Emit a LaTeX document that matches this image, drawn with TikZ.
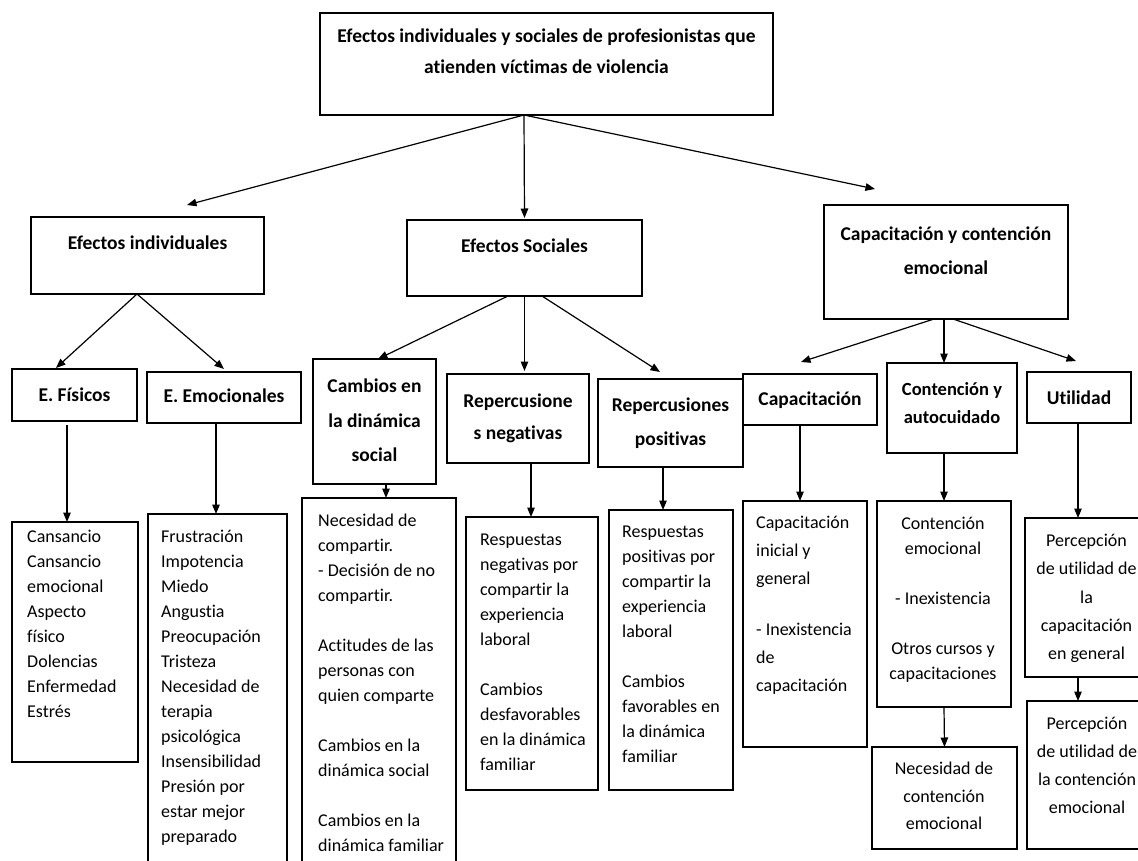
\documentclass[tikz,border=0pt]{standalone}
\usepackage{fontspec}
\setmainfont{Carlito}[Ligatures={NoCommon,NoContextual}]
\usepackage{tikz}
\usetikzlibrary{arrows.meta}

\begin{document}
\begin{tikzpicture}[x=1pt,y=-1pt,
	caja/.style={draw, line width=1.4pt, inner sep=0pt, outer sep=0pt},
	titulo/.style={font=\bfseries\fontsize{19.5}{31}\selectfont, align=center, inner sep=0pt},
	lista/.style={font=\fontsize{18}{25}\selectfont, align=left, inner sep=0pt, anchor=north west},
	centrada/.style={font=\fontsize{18}{25}\selectfont, align=center, inner sep=0pt, anchor=north},
	flecha/.style={-{Triangle[length=9.5pt,width=7.5pt]}, line width=1.2pt}]
			\useasboundingbox (0,0) rectangle (1138,861);
			
			% Nodes
			\node[caja, minimum width=453, minimum height=102] (top) at (546.5,64) {};
			\node[titulo] (top-t) at (546.5,51.5) {Efectos individuales y sociales de profesionistas que\\atienden víctimas de violencia};
			
			\node[caja, minimum width=233, minimum height=77] (ind) at (147.5,255.5) {};
			\node[titulo] (ind-t) at (147.5,243) {Efectos individuales};
			\node[caja, minimum width=235, minimum height=76] (soc) at (524.5,258) {};
			\node[titulo] (soc-t) at (524.5,246) {Efectos Sociales};
			\node[caja, minimum width=244, minimum height=114] (cap) at (946,262) {};
			\node[titulo, font=\bfseries\fontsize{19.5}{34}\selectfont] (cap-t) at (946,250.5) {Capacitación y contención\\emocional};
			
			\node[caja, minimum width=125, minimum height=52] (fis) at (74.5,395) {};
			\node[titulo] (fis-t) at (74.5,395) {E. Físicos};
			\node[caja, minimum width=154, minimum height=51] (emo) at (224,397.5) {};
			\node[titulo] (emo-t) at (224,396) {E. Emocionales};
			\node[caja, minimum width=123, minimum height=125] (cam) at (374.5,421.5) {};
			\node[titulo, font=\bfseries\fontsize{19.5}{34.5}\selectfont] (cam-t) at (374.5,420.5) {Cambios en\\la dinámica\\social};
			\node[caja, minimum width=142, minimum height=89] (neg) at (518,418.5) {};
			\node[titulo, font=\bfseries\fontsize{19.5}{32}\selectfont] (neg-t) at (518,418) {Repercusione\\s negativas};
			\node[caja, minimum width=145, minimum height=88] (pos) at (670.5,423) {};
			\node[titulo, font=\bfseries\fontsize{19.5}{34}\selectfont] (pos-t) at (670.5,423.5) {Repercusiones\\positivas};
			\node[caja, minimum width=134, minimum height=51] (capa) at (810,399.5) {};
			\node[titulo] (capa-t) at (810,400) {Capacitación};
			\node[caja, minimum width=130, minimum height=90] (cont) at (952,408) {};
			\node[titulo, font=\bfseries\fontsize{18.5}{28.5}\selectfont] (cont-t) at (952,403) {Contención y\\autocuidado};
			\node[caja, minimum width=104, minimum height=51] (util) at (1079,397.5) {};
			\node[titulo] (util-t) at (1079,398) {Utilidad};
			
			% Lists
			\node[caja, minimum width=126, minimum height=240] (fisl) at (75,642) {};
			\node[lista] (fisl-t) at (27,530) {Cansancio\\Cansancio\\emocional\\Aspecto\\físico\\Dolencias\\Enfermedad\\Estrés};
			\node[caja, minimum width=139, minimum height=386] (emol) at (217.5,707) {};
			\node[lista] (emol-t) at (161,530) {Frustración\\Impotencia\\Miedo\\Angustia\\Preocupación\\Tristeza\\Necesidad de\\terapia\\psicológica\\Insensibilidad\\Presión por\\estar mejor\\preparado};
			\node[caja, minimum width=154, minimum height=402] (caml) at (379,699) {};
			\node[lista] (caml-t) at (318,514) {Necesidad de\\compartir.\\- Decisión de no\\compartir.\\[25pt]Actitudes de las\\personas con\\quien comparte\\[25pt]Cambios en la\\dinámica social\\[25pt]Cambios en la\\dinámica familiar};
			\node[caja, minimum width=132, minimum height=273] (negl) at (532,653.5) {};
			\node[lista] (negl-t) at (480,534) {Respuestas\\negativas por\\compartir la\\experiencia\\laboral\\[25pt]Cambios\\desfavorables\\en la dinámica\\familiar};
			\node[caja, minimum width=124, minimum height=280] (posl) at (671,650) {};
			\node[lista] (posl-t) at (622,526) {Respuestas\\positivas por\\compartir la\\experiencia\\laboral\\[25pt]Cambios\\favorables en\\la dinámica\\familiar};
			\node[caja, minimum width=124, minimum height=246] (capal) at (805,624) {};
			\node[lista, font=\fontsize{18}{28}\selectfont] (capal-t) at (756,516) {Capacitación\\inicial y\\general\\[23pt]- Inexistencia\\de\\capacitación};
			\node[caja, minimum width=134, minimum height=206] (contl) at (944,604) {};
			\node[centrada] (contl-t) at (943,517) {Contención\\emocional\\[25pt]- Inexistencia\\[25pt]Otros cursos y\\capacitaciones};
			\node[caja, minimum width=145, minimum height=102] (nec) at (944.5,798) {};
			\node[centrada, font=\fontsize{18}{27.5}\selectfont] (nec-t) at (944,762) {Necesidad de\\contención\\emocional};
			\node[caja, minimum width=125, minimum height=159] (util1) at (1087.5,597.5) {};
			\node[centrada, font=\fontsize{18}{28.3}\selectfont] (util1-t) at (1086.5,534) {Percepción\\de utilidad de\\la\\capacitación\\en general};
			\node[caja, minimum width=123, minimum height=148] (util2) at (1088.5,775) {};
			\node[centrada, font=\fontsize{18}{28}\selectfont] (util2-t) at (1087,717) {Percepción\\de utilidad de\\la contención\\emocional};
			
			% Connectors
			\draw[flecha] ([xshift=-22.5pt]top.south) -- ([xshift=39.5pt,yshift=12pt]ind.north);
			\draw[flecha] ([xshift=-22.5pt]top.south) -- ([yshift=2pt]soc.north);
			\draw[flecha] ([xshift=-22.5pt]top.south) -- ([xshift=-71pt,yshift=16pt]cap.north);
			
			\draw[flecha] ([xshift=-10.5pt]ind.south) -- ([xshift=-18.5pt,yshift=1pt]fis.north);
			\draw[flecha] ([xshift=-10.5pt]ind.south) -- ([yshift=3pt]emo.north);
			\draw[flecha] ([xshift=-16.5pt]soc.south) -- ([xshift=3.5pt]cam.north);
			\draw[flecha] (soc.south) -- ([xshift=6.5pt,yshift=3pt]neg.north);
			\draw[flecha] ([xshift=17.5pt]soc.south) -- ([xshift=-10.5pt,yshift=7pt]pos.north);
			\draw[flecha] ([xshift=-12pt]cap.south) -- ([xshift=-9pt,yshift=12pt]capa.north);
			\draw[flecha] ([xshift=-2pt]cap.south) -- ([xshift=-8pt]cont.north);
			\draw[flecha] ([xshift=7pt]cap.south) -- ([xshift=-3pt,yshift=11pt]util.north);
			
			\draw[flecha] ([xshift=-7.5pt,yshift=-4pt]fis.south) -- ([xshift=-8pt]fisl.north);
			\draw[flecha] ([xshift=-8pt]emo.south) -- ([xshift=-1.5pt]emol.north);
			\draw[flecha] ([xshift=11.5pt]cam.south) -- ([xshift=7pt]caml.north);
			\draw[flecha] ([xshift=13pt]neg.south) -- ([xshift=-1pt]negl.north);
			\draw[flecha] ([xshift=-7.5pt]pos.south) -- ([xshift=-8pt]posl.north);
			\draw[flecha] ([xshift=-10pt]capa.south) -- ([xshift=-5pt]capal.north);
			\draw[flecha] ([xshift=-8pt]cont.south) -- (contl.north);
			\draw[flecha] ([xshift=-1pt]util.south) -- ([xshift=-9.5pt]util1.north);
			\draw[flecha] (contl.south) -- (nec.north);
			\draw[flecha] ([xshift=-9.5pt]util1.south) -- ([xshift=-10.5pt]util2.north);
			
		\end{tikzpicture}
\end{document}
